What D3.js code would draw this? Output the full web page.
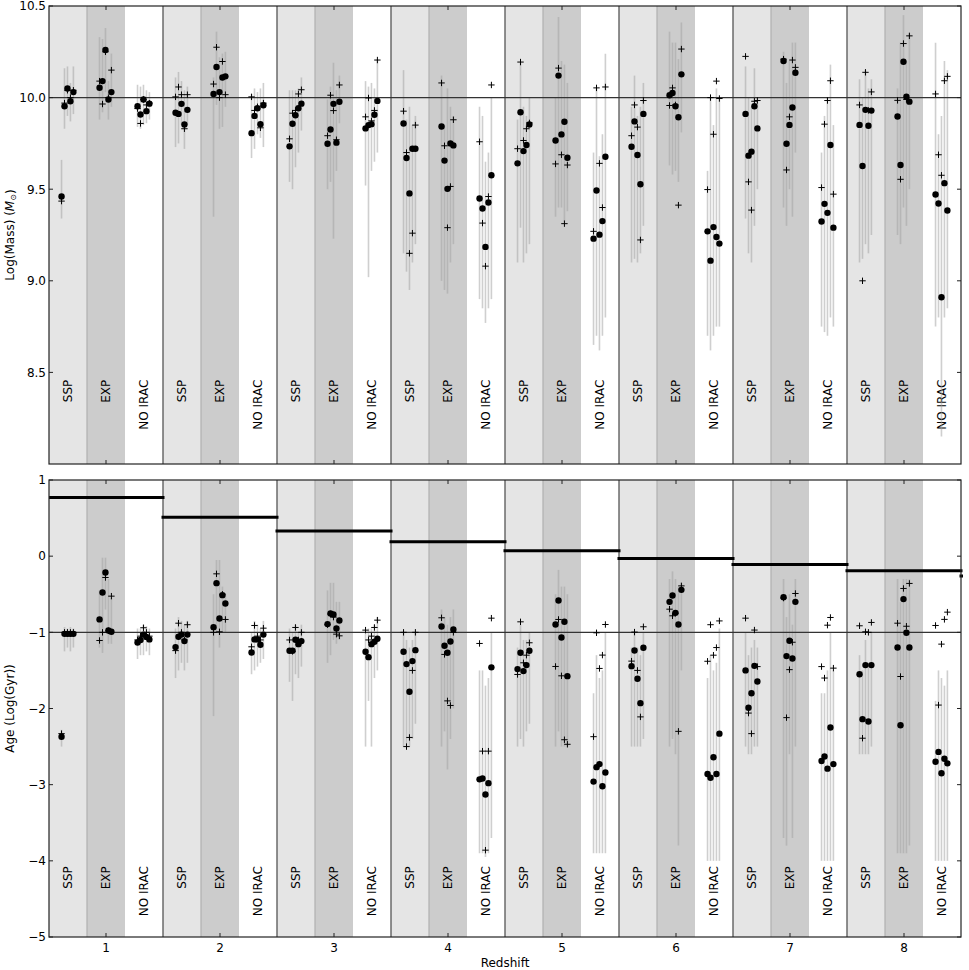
<!DOCTYPE html>
<html>
<head>
<meta charset="utf-8">
<script src="https://cdn.jsdelivr.net/npm/d3@7"></script>
<style>
  body {margin: 0; background: #fff;}
  text {font-family: "DejaVu Sans", sans-serif; fill: #000;}
</style>
</head>
<body>
<svg id="chart" width="969" height="970"></svg>
<script>
var redshifts = [1, 2, 3, 4, 5, 6, 7, 8]
var models = ['SSP', 'EXP', 'NO IRAC']
// log age of the universe at each redshift (z = 9 only peeks in at the right edge)
var universeAge = [0.77, 0.51, 0.33, 0.19, 0.07, -0.03, -0.11, -0.19, -0.26]

// rows go z1 SSP, z1 EXP, z1 NO IRAC, z2 SSP ... ; five galaxies per row
var massFit = [
  [9.46, 9.953, 10.05, 9.98, 10.03], [10.054, 10.09, 10.26, 9.99, 10.03], [9.953, 9.908, 9.99, 9.926, 9.967],
  [9.917, 9.911, 9.966, 9.853, 9.933], [10.02, 10.167, 10.03, 10.11, 10.116], [9.806, 9.9, 9.942, 9.855, 9.958],
  [9.734, 9.857, 9.904, 9.942, 9.967], [9.748, 9.826, 9.966, 9.754, 9.977], [9.832, 9.85, 9.855, 9.906, 9.982],
  [9.859, 9.67, 9.477, 9.721, 9.721], [9.842, 9.656, 9.502, 9.75, 9.739], [9.449, 9.395, 9.185, 9.427, 9.576],
  [9.641, 9.92, 9.708, 9.741, 9.853], [9.766, 10.12, 9.799, 9.868, 9.672], [9.23, 9.493, 9.252, 9.326, 9.677],
  [9.732, 9.87, 9.687, 9.527, 9.911], [10.013, 10.025, 9.953, 9.893, 10.127], [9.27, 9.11, 9.293, 9.239, 9.203],
  [9.911, 9.683, 9.705, 9.953, 9.832], [10.2, 9.748, 9.851, 9.946, 10.136], [9.324, 9.42, 9.371, 9.741, 9.29],
  [9.851, 9.627, 9.933, 9.846, 9.929], [9.897, 9.632, 10.196, 10.005, 9.978], [9.471, 9.422, 8.91, 9.533, 9.384]
]
var massAlt = [
  [9.435, 9.97, 10.04, 10.0, 10.04], [10.09, 9.965, 10.25, 10.0, 10.15], [9.94, 9.859, 9.99, 9.96, 9.97],
  [10.004, 10.058, 10.016, 9.83, 10.016], [10.074, 10.275, 10.0, 10.197, 10.016], [10.004, 9.93, 9.95, 9.835, 9.97],
  [9.775, 9.915, 9.93, 10.02, 10.043], [9.792, 10.013, 9.929, 9.77, 10.069], [9.895, 9.998, 9.873, 9.93, 10.205],
  [9.926, 9.70, 9.15, 9.26, 9.85], [10.08, 9.737, 9.29, 9.515, 9.879], [9.759, 9.315, 9.08, 9.46, 10.069],
  [9.721, 10.194, 9.766, 9.83, 9.862], [9.638, 10.161, 9.688, 9.312, 9.632], [9.27, 10.053, 9.641, 9.4, 10.058],
  [9.792, 9.96, 9.839, 9.223, 9.984], [9.957, 10.053, 9.96, 9.413, 10.265], [9.498, 10.0, 9.8, 10.09, 9.995],
  [10.225, 9.54, 9.386, 9.98, 9.984], [10.21, 9.605, 9.895, 10.205, 10.165], [9.509, 9.855, 9.984, 10.092, 9.473],
  [9.96, 9.0, 10.138, 9.93, 10.031], [9.985, 9.554, 10.295, 9.99, 10.337], [10.02, 9.688, 9.576, 10.092, 10.116]
]
var massLo = [
  [9.34, 9.83, 9.90, 9.87, 9.91], [9.88, 9.92, 10.03, 9.88, 9.95], [9.84, 9.83, 9.85, 9.86, 9.88],
  [9.73, 9.75, 9.85, 9.72, 9.85], [9.35, 9.96, 9.83, 9.84, 9.95], [9.67, 9.72, 9.80, 9.78, 9.73],
  [9.54, 9.50, 9.62, 9.70, 9.82], [9.50, 9.54, 9.23, 9.60, 9.86], [9.52, 9.02, 9.60, 9.65, 9.70],
  [9.15, 9.05, 8.95, 9.10, 9.20], [9.0, 8.95, 8.93, 9.1, 9.2], [8.9, 8.85, 8.77, 8.85, 8.9],
  [9.1, 9.29, 9.1, 9.15, 9.2], [9.35, 9.4, 9.4, 9.32, 9.38], [8.65, 8.7, 8.62, 8.7, 8.8],
  [9.1, 9.12, 9.1, 9.15, 9.3], [9.63, 9.58, 9.6, 9.54, 9.81], [8.7, 8.62, 8.7, 8.75, 8.75],
  [9.34, 9.15, 9.1, 9.3, 9.5], [9.4, 9.3, 9.5, 9.35, 9.7], [8.75, 8.72, 8.7, 8.8, 8.75],
  [9.1, 9.12, 9.2, 9.15, 9.25], [9.25, 9.2, 9.4, 9.3, 9.5], [8.75, 8.8, 8.15, 8.8, 8.85]
]
var massHi = [
  [9.66, 10.16, 10.17, 10.08, 10.17], [10.33, 10.32, 10.38, 10.09, 10.24], [10.07, 10.06, 10.07, 10.04, 10.03],
  [10.11, 10.14, 10.09, 10.04, 10.06], [10.11, 10.36, 10.22, 10.24, 10.25], [10.02, 10.05, 10.03, 10.05, 10.08],
  [10.04, 10.04, 10.04, 10.05, 10.11], [9.99, 10.06, 10.19, 10.04, 10.12], [10.09, 10.06, 10.08, 10.05, 10.21],
  [10.15, 9.88, 9.95, 9.85, 9.9], [10.12, 9.85, 10.05, 9.95, 9.9], [9.95, 9.9, 9.65, 9.7, 10.0],
  [9.88, 10.19, 9.95, 9.9, 10.0], [10.0, 10.44, 10.2, 10.18, 10.08], [9.7, 10.05, 9.68, 9.8, 10.24],
  [9.95, 10.12, 9.9, 9.95, 10.08], [10.36, 10.3, 10.3, 10.21, 10.41], [9.6, 10.0, 9.85, 10.05, 10.0],
  [10.17, 10.0, 9.95, 10.16, 10.0], [10.25, 10.08, 10.2, 10.3, 10.3], [9.7, 9.9, 10.0, 10.18, 9.85],
  [10.1, 10.0, 10.15, 10.05, 10.1], [10.05, 10.3, 10.45, 10.2, 10.35], [10.3, 9.8, 9.9, 10.2, 10.15]
]

var ageFit = [
  [-2.37, -1.02, -1.02, -1.02, -1.02], [-0.83, -0.477, -0.214, -0.976, -0.993], [-1.133, -1.1, -1.03, -1.06, -1.093],
  [-1.194, -1.058, -1.03, -1.115, -1.03], [-0.932, -0.354, -0.818, -0.512, -0.621], [-1.264, -1.093, -1.093, -1.164, -1.03],
  [-1.242, -1.242, -1.098, -1.155, -1.115], [-0.892, -0.752, -0.766, -0.949, -0.844], [-1.255, -1.326, -1.155, -1.124, -1.085],
  [-1.255, -1.417, -1.78, -1.378, -1.234], [-0.923, -1.177, -1.269, -1.12, -0.962], [-2.93, -2.92, -3.13, -2.98, -1.46],
  [-1.483, -1.269, -1.509, -1.43, -1.242], [-0.897, -0.582, -1.067, -0.862, -1.575], [-2.96, -2.77, -2.73, -3.02, -2.84],
  [-1.444, -1.238, -1.61, -1.93, -1.203], [-0.6, -0.516, -0.744, -0.897, -0.442], [-2.86, -2.91, -2.64, -2.86, -2.33],
  [-1.5, -1.99, -1.80, -1.44, -1.645], [-0.538, -1.312, -1.11, -1.343, -0.6], [-2.69, -2.63, -2.79, -2.25, -2.73],
  [-1.55, -2.14, -1.43, -2.17, -1.43], [-1.2, -2.22, -0.564, -1.006, -1.2], [-2.70, -2.57, -2.85, -2.66, -2.72]
]
var ageAlt = [
  [-2.33, -1.0, -1.0, -1.0, -1.0], [-1.107, -1.0, -0.28, -0.98, -0.525], [-1.1, -1.05, -0.94, -1.0, -1.05],
  [-1.24, -0.88, -1.0, -1.1, -0.9], [-1.0, -0.232, -0.993, -0.5, -0.831], [-1.19, -0.91, -1.05, -1.1, -0.945],
  [-1.1, -1.25, -0.936, -1.1, -1.0], [-0.9, -0.76, -0.8, -1.024, -1.046], [-0.971, -1.1, -1.05, -0.936, -0.84],
  [-1.0, -2.5, -2.38, -1.5, -1.0], [-0.809, -1.29, -1.9, -1.96, -1.0], [-1.146, -2.56, -3.86, -2.56, -0.814],
  [-1.553, -0.862, -1.4, -1.3, -1.137], [-1.448, -0.831, -1.571, -2.41, -2.47], [-2.37, -1.006, -1.474, -1.299, -0.897],
  [-1.378, -0.997, -1.5, -2.11, -0.927], [-0.696, -0.783, -0.75, -2.3, -0.39], [-1.38, -0.9, -1.3, -1.2, -0.85],
  [-0.814, -2.06, -2.33, -0.97, -1.45], [-0.55, -2.12, -1.49, -1.13, -0.49], [-1.45, -1.6, -0.906, -0.805, -1.47],
  [-0.914, -2.39, -0.993, -1.0, -0.87], [-0.88, -1.58, -0.424, -0.92, -0.358], [-0.91, -1.955, -1.155, -0.83, -0.735]
]
var ageLo = [
  [-2.5, -1.25, -1.2, -1.25, -1.2], [-1.2, -1.27, -0.7, -1.15, -1.15], [-1.35, -1.3, -1.3, -1.25, -1.3],
  [-1.6, -1.5, -1.4, -1.5, -1.4], [-2.1, -1.0, -1.2, -1.0, -1.0], [-1.55, -1.5, -1.45, -1.4, -1.35],
  [-1.65, -1.9, -1.55, -1.6, -1.45], [-1.4, -1.3, -1.1, -1.15, -1.1], [-2.5, -1.9, -2.5, -1.6, -1.5],
  [-2.5, -2.5, -2.5, -2.4, -2.2], [-2.5, -2.3, -2.8, -2.4, -2.0], [-3.9, -3.9, -3.95, -3.9, -3.7],
  [-2.5, -2.4, -2.5, -2.3, -2.2], [-2.5, -2.3, -2.5, -2.5, -2.5], [-3.9, -3.9, -3.9, -3.9, -3.9],
  [-2.5, -2.5, -2.5, -2.5, -2.4], [-2.5, -2.4, -2.6, -3.8, -1.5], [-4.0, -4.0, -4.0, -4.0, -4.0],
  [-2.5, -2.6, -2.6, -2.5, -2.5], [-3.7, -3.8, -2.6, -3.7, -2.5], [-4.0, -4.0, -4.0, -4.0, -4.0],
  [-2.6, -2.6, -2.6, -2.6, -2.5], [-3.9, -3.9, -3.9, -3.9, -3.8], [-4.0, -4.0, -4.0, -4.0, -4.0]
]
var ageHi = [
  [-2.28, -0.93, -0.95, -0.93, -0.95], [-0.45, -0.02, -0.02, -0.3, -0.55], [-0.95, -0.95, -0.9, -0.92, -0.95],
  [-0.95, -0.8, -0.85, -0.9, -0.85], [-0.5, -0.05, -0.05, -0.4, -0.5], [-1.0, -0.85, -0.9, -0.95, -0.85],
  [-0.95, -1.0, -0.9, -1.0, -0.9], [-0.45, -0.35, -0.35, -0.6, -0.6], [-1.0, -0.95, -0.95, -0.9, -0.8],
  [-1.0, -1.1, -1.2, -1.1, -1.0], [-0.7, -0.8, -0.9, -0.8, -0.7], [-1.5, -1.5, -1.7, -1.6, -1.0],
  [-1.2, -0.9, -1.1, -1.1, -1.0], [-0.5, -0.18, -0.4, -0.4, -0.5], [-1.8, -1.3, -1.6, -1.5, -1.0],
  [-1.2, -1.0, -1.2, -1.3, -1.0], [-0.3, -0.2, -0.3, -0.4, -0.35], [-1.6, -1.3, -1.5, -1.4, -0.95],
  [-1.0, -1.3, -1.2, -1.1, -1.2], [-0.3, -0.8, -0.5, -0.9, -0.3], [-1.8, -1.8, -1.5, -1.0, -1.5],
  [-1.3, -1.5, -1.1, -1.4, -1.0], [-0.3, -0.6, -0.3, -0.3, -0.3], [-1.9, -1.5, -1.6, -1.7, -1.5]
]

var massTicks = [8.5, 9.0, 9.5, 10.0, 10.5]
var ageTicks = [-5, -4, -3, -2, -1, 0, 1]

var svg = d3.select('#chart')
var left = 49, right = 961
var x = d3.scaleLinear().domain([0.5, 8.5]).range([left, right])
var colFill = ['#e5e5e5', '#cccccc', '#ffffff']

function galaxies(fit, alt, lo, hi){
  var rows = []
  fit.forEach((row, r) => {
    var z = redshifts[Math.floor(r/3)], c = r % 3
    row.forEach((v, i) => rows.push({
      x: z - 0.5 + c/3 + 0.11 + i*0.026, fit: v, alt: alt[r][i], lo: lo[r][i], hi: hi[r][i]
    }))
  })
  return rows
}

function drawPanel(o){
  var y = d3.scaleLinear().domain(o.domain).range([o.bottom, o.top])
  var g = svg.append('g')
  var clipId = 'clip' + o.top
  svg.append('clipPath').attr('id', clipId).append('rect')
    .attr('x', left).attr('y', o.top).attr('width', right - left + 2).attr('height', o.bottom - o.top)

  // model columns
  var cols = d3.cross(redshifts, d3.range(3))
  g.selectAll('rect.col').data(cols).join('rect')
    .attr('x', d => x(d[0] - 0.5 + d[1]/3))
    .attr('width', x(1/3) - x(0))
    .attr('y', o.top).attr('height', o.bottom - o.top)
    .attr('fill', d => colFill[d[1]])

  g.selectAll('line.split').data(redshifts).join('line')
    .attr('x1', d => x(d - 0.5 + 1/3)).attr('x2', d => x(d - 0.5 + 1/3))
    .attr('y1', o.top).attr('y2', o.bottom)
    .attr('stroke', '#b0b0b0').attr('stroke-width', 1.2)

  g.selectAll('line.bin').data(redshifts.slice(1)).join('line')
    .attr('x1', d => x(d - 0.5)).attr('x2', d => x(d - 0.5))
    .attr('y1', o.top).attr('y2', o.bottom)
    .attr('stroke', '#555').attr('stroke-width', 1.3)

  // rotated model names
  g.selectAll('text.model').data(cols).join('text')
    .attr('transform', d => `translate(${x(d[0] - 0.5 + d[1]/3 + 1/6)},${y(o.labelAt)}) rotate(-90)`)
    .attr('text-anchor', 'end').attr('dy', '0.36em')
    .attr('font-size', 12)
    .text(d => models[d[1]])

  var pts = galaxies(o.fit, o.alt, o.lo, o.hi)

  g.selectAll('line.err').data(pts).join('line')
    .attr('x1', d => x(d.x)).attr('x2', d => x(d.x))
    .attr('y1', d => y(d.lo)).attr('y2', d => y(d.hi))
    .attr('stroke', '#a0a0a0').attr('stroke-opacity', 0.5).attr('stroke-width', 1.6)

  g.append('line')
    .attr('x1', left).attr('x2', right).attr('y1', y(o.ref)).attr('y2', y(o.ref))
    .attr('stroke', '#333').attr('stroke-width', 1.2)

  if (o.ages){
    g.append('g').attr('clip-path', `url(#${clipId})`)
      .selectAll('line').data(o.ages).join('line')
      .attr('x1', (d, i) => x(i + 0.5)).attr('x2', (d, i) => x(i + 1.5))
      .attr('y1', d => y(d)).attr('y2', d => y(d))
      .attr('stroke', '#000').attr('stroke-width', 3).attr('stroke-linecap', 'square')
  }

  g.selectAll('path.alt').data(pts).join('path')
    .attr('d', d => {
      var px = x(d.x), py = y(d.alt), s = 3.2
      return `M${px - s},${py}H${px + s}M${px},${py - s}V${py + s}`
    })
    .attr('stroke', '#000').attr('stroke-width', 1)

  g.selectAll('circle').data(pts).join('circle')
    .attr('cx', d => x(d.x)).attr('cy', d => y(d.fit)).attr('r', 3.2)
    .attr('fill', '#000')

  // frame + inward ticks on all sides
  g.append('rect')
    .attr('x', left).attr('y', o.top).attr('width', right - left).attr('height', o.bottom - o.top)
    .attr('fill', 'none').attr('stroke', '#222').attr('stroke-width', 1.2)

  o.ticks.forEach(t => {
    g.append('line').attr('x1', left).attr('x2', left + 4).attr('y1', y(t)).attr('y2', y(t)).attr('stroke', '#222')
    g.append('line').attr('x1', right).attr('x2', right - 4).attr('y1', y(t)).attr('y2', y(t)).attr('stroke', '#222')
    g.append('text').attr('x', left - 3).attr('y', y(t)).attr('dy', '0.36em')
      .attr('text-anchor', 'end').attr('font-size', 12)
      .text(o.fmt(t))
  })
  redshifts.forEach(t => {
    g.append('line').attr('x1', x(t)).attr('x2', x(t)).attr('y1', o.bottom).attr('y2', o.bottom - 4).attr('stroke', '#222')
    g.append('line').attr('x1', x(t)).attr('x2', x(t)).attr('y1', o.top).attr('y2', o.top + 4).attr('stroke', '#222')
  })

  var label = g.append('text')
    .attr('transform', `translate(10,${(o.top + o.bottom)/2}) rotate(-90)`)
    .attr('text-anchor', 'middle').attr('dy', '0.36em').attr('font-size', 12)
  o.ylabel(label)
  return y
}

drawPanel({
  top: 6, bottom: 464, domain: [8.0, 10.5], ticks: massTicks, ref: 10.0, labelAt: 8.46,
  fit: massFit, alt: massAlt, lo: massLo, hi: massHi,
  fmt: d3.format('.1f'),
  ylabel: t => {
    t.append('tspan').text('Log(Mass) (')
    t.append('tspan').attr('font-style', 'italic').text('M')
    t.append('tspan').attr('font-size', 8).attr('dy', '0.25em').text('⊙')
    t.append('tspan').attr('dy', '-0.15em').text(')')
  }
})

drawPanel({
  top: 480, bottom: 937, domain: [-5, 1], ticks: ageTicks, ref: -1, labelAt: -4.07,
  fit: ageFit, alt: ageAlt, lo: ageLo, hi: ageHi, ages: universeAge,
  fmt: d => d < 0 ? '\u2212' + Math.abs(d) : String(d),
  ylabel: t => t.text('Age (Log(Gyr))')
})

svg.selectAll('text.xtick').data(redshifts).join('text')
  .attr('x', d => x(d)).attr('y', 952)
  .attr('text-anchor', 'middle').attr('font-size', 12)
  .text(d => d)

svg.append('text')
  .attr('x', (left + right)/2).attr('y', 967)
  .attr('text-anchor', 'middle').attr('font-size', 12)
  .text('Redshift')
</script>
</body>
</html>
